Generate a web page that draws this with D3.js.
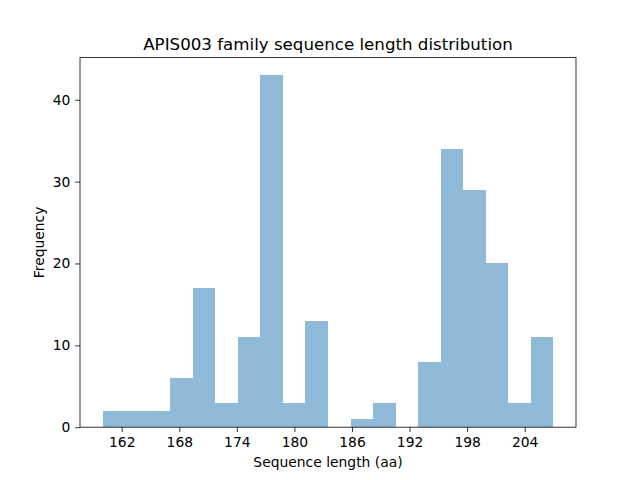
<!DOCTYPE html>
<html>
<head>
<meta charset="utf-8">
<script src="https://cdn.jsdelivr.net/npm/d3@7"></script>
<style>
  body { margin: 0; background: #fff; }
  text { font-family: "DejaVu Sans", sans-serif; }
</style>
</head>
<body>
<div id="chart"></div>
<script>
// Data
const binEdges = [160, 162.35, 164.7, 167.05, 169.4, 171.75, 174.1, 176.45, 178.8, 181.15,
    183.5, 185.85, 188.2, 190.55, 192.9, 195.25, 197.6, 199.95, 202.3, 204.65, 207];
const counts = [2, 2, 2, 6, 17, 3, 11, 43, 3, 13, 0, 1, 3, 0, 8, 34, 29, 20, 3, 11];
const xTicks = [162, 168, 174, 180, 186, 192, 198, 204];
const yTicks = [0, 10, 20, 30, 40];

const bins = counts.map((c, i) => ({ x0: binEdges[i], x1: binEdges[i + 1], count: c }));

// Dimension
let dimensions = {
    width: 640,
    height: 480,
    left: 80,
    right: 576,
    top: 57.6,
    bottom: 427.2,
};

const svg = d3.select('#chart')
    .append('svg')
    .attr('width', dimensions.width)
    .attr('height', dimensions.height);

// Scales (matplotlib style 5% margins)
const xMin = binEdges[0], xMax = binEdges[binEdges.length - 1];
const xPad = (xMax - xMin) * 0.05;
const xScale = d3.scaleLinear()
    .domain([xMin - xPad, xMax + xPad])
    .range([dimensions.left, dimensions.right]);

const yScale = d3.scaleLinear()
    .domain([0, d3.max(counts) * 1.05])
    .range([dimensions.bottom, dimensions.top]);

// Bars
svg.append('g')
    .attr('shape-rendering', 'crispEdges')
    .selectAll('rect')
    .data(bins)
    .join('rect')
    .attr('x', d => xScale(d.x0))
    .attr('y', d => yScale(d.count))
    .attr('width', d => xScale(d.x1) - xScale(d.x0))
    .attr('height', d => yScale(0) - yScale(d.count))
    .attr('fill', '#8fbbd9');

// Axes
const tick = 4.86;
const xAxis = d3.axisBottom(xScale)
    .tickValues(xTicks)
    .tickSize(tick)
    .tickPadding(tick)
    .tickSizeOuter(0);
const xAxisGroup = svg.append('g')
    .attr('transform', `translate(0, ${dimensions.bottom})`)
    .call(xAxis);

const yAxis = d3.axisLeft(yScale)
    .tickValues(yTicks)
    .tickSize(tick)
    .tickPadding(tick)
    .tickSizeOuter(0);
const yAxisGroup = svg.append('g')
    .attr('transform', `translate(${dimensions.left}, 0)`)
    .call(yAxis);

[xAxisGroup, yAxisGroup].forEach(g => {
    g.select('.domain').remove();
    g.selectAll('.tick line').attr('stroke', '#000').attr('stroke-width', 0.8);
    g.selectAll('.tick text')
        .attr('fill', '#000')
        .style('font-size', '13.89px')
        .style('font-family', '"DejaVu Sans", sans-serif');
});

// Frame
svg.append('rect')
    .attr('x', dimensions.left)
    .attr('y', dimensions.top)
    .attr('width', dimensions.right - dimensions.left)
    .attr('height', dimensions.bottom - dimensions.top)
    .attr('fill', 'none')
    .attr('stroke', '#000')
    .attr('stroke-width', 0.8);

// Labels
svg.append('text')
    .attr('x', (dimensions.left + dimensions.right) / 2)
    .attr('y', 49.5)
    .attr('text-anchor', 'middle')
    .style('font-size', '16.67px')
    .text('APIS003 family sequence length distribution');

svg.append('text')
    .attr('x', (dimensions.left + dimensions.right) / 2)
    .attr('y', 467)
    .attr('text-anchor', 'middle')
    .style('font-size', '13.89px')
    .text('Sequence length (aa)');

svg.append('text')
    .attr('transform', `translate(44, ${(dimensions.top + dimensions.bottom) / 2}) rotate(-90)`)
    .attr('text-anchor', 'middle')
    .style('font-size', '13.89px')
    .text('Frequency');
</script>
</body>
</html>
